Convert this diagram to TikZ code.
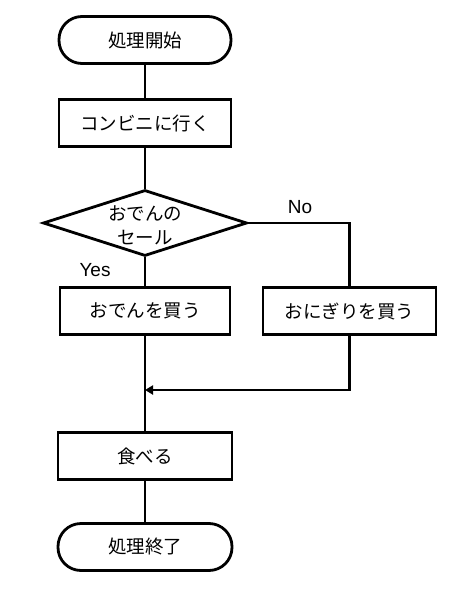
\documentclass[tikz,border=0pt]{standalone}
\usepackage{fontspec}
\setmainfont{Noto Sans CJK JP}
\newfontfamily\latinfont{Liberation Sans}
\usetikzlibrary{shapes.geometric,arrows.meta}
\newlength{\flowwidth}
\setlength{\flowwidth}{172pt}
\tikzset{
    terminal/.style={draw, rounded corners=23pt, minimum width=\flowwidth, minimum height=47pt, font=\fontsize{18.5}{22}\selectfont},
    process/.style={draw, rectangle, minimum width=\flowwidth, minimum height=47pt, font=\fontsize{18.5}{22}\selectfont},
    decision/.style={draw, diamond, minimum width=204pt, minimum height=66pt, inner sep=0pt, aspect=3.1},
    branch/.style={font=\latinfont\fontsize{19}{22}\selectfont}
}

\begin{document}
\begin{tikzpicture}[x=1pt, y=-1pt, line width=2.8pt]
    \useasboundingbox (0,0) rectangle (462,601);

    \node[terminal] (start) at (145,40) {処理開始};
    \node[process] (konbini) at (145,123) {コンビニに行く};
    \node[decision] (sale) at (145,223) {};
    \node[align=center, font=\fontsize{18.5}{24}\selectfont] (saletext) at (145,225) {おでんの\\セール};
    \node[process, minimum width=170pt] (oden) at (145,311) {おでんを買う};
    \node[process, minimum width=173pt] (onigiri) at (349.5,311) {おにぎりを買う};
    \coordinate (merge) at (145,390);
    \node[process, minimum width=174pt] (eat) at (145,456) {食べる};
    \node[terminal, minimum width=174pt] (finish) at (145,547) {処理終了};

    \node[branch] (yes) at (95,270) {Yes};
    \node[branch] (no) at (300,207) {No};

    \draw (start) -- (konbini);
    \draw (konbini) -- (sale);
    \draw (sale) -- (oden);
    \draw (sale.east) -| (onigiri.north);
    \draw (oden) -- (eat);
    \draw[-{Triangle[length=8pt,width=9pt]}] (onigiri.south) |- (merge);
    \draw (eat) -- (finish);
\end{tikzpicture}
\end{document}
